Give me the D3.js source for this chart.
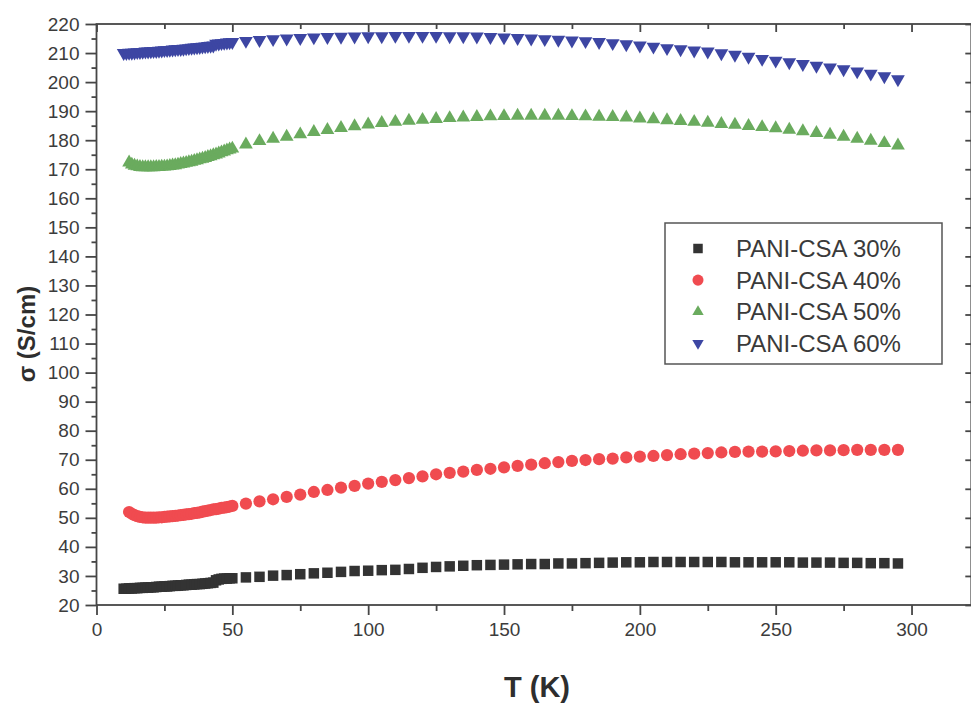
<!DOCTYPE html>
<html><head><meta charset="utf-8">
<script src="https://cdn.jsdelivr.net/npm/d3@7"></script>
<style>
html,body{margin:0;padding:0;background:#fff;}
svg{display:block;}
text{font-family:"Liberation Sans",Arial,Helvetica,sans-serif;}
</style></head>
<body><svg id="chart" width="971" height="703"></svg>
<script>
// ---- data ----
const seriesNames = ["PANI-CSA 30%","PANI-CSA 40%","PANI-CSA 50%","PANI-CSA 60%"];
const tempLow10 = [10,11,12,13,14,15,16,17,18,19,20,21,22,23,24,25,26,27,28,29,30,31,32,33,34,35,36,37,38,39,40,41,42,43,44,45,46,47,48,49];
const tempLow12 = [12,13,14,15,16,17,18,19,20,21,22,23,24,25,26,27,28,29,30,31,32,33,34,35,36,37,38,39,40,41,42,43,44,45,46,47,48,49];
const tempHigh = [50,55,60,65,70,75,80,85,90,95,100,105,110,115,120,125,130,135,140,145,150,155,160,165,170,175,180,185,190,195,200,205,210,215,220,225,230,235,240,245,250,255,260,265,270,275,280,285,290,295];

const sigma30Low = [25.6,25.6,25.7,25.7,25.8,25.8,25.9,25.9,26.0,26.0,26.1,26.1,26.2,26.3,26.3,26.4,26.4,26.5,26.6,26.6,26.7,26.8,26.8,26.9,27.0,27.0,27.1,27.2,27.2,27.3,27.4,27.5,27.6,27.7,28.5,28.8,29.0,29.1,29.1,29.2];
const sigma30High = [29.2,29.5,29.7,30.1,30.3,30.6,30.9,31.1,31.4,31.7,31.8,32.0,32.1,32.4,32.8,33.1,33.3,33.5,33.7,33.8,33.9,34.0,34.1,34.1,34.3,34.3,34.4,34.5,34.6,34.7,34.7,34.8,34.8,34.8,34.8,34.8,34.8,34.7,34.7,34.7,34.7,34.7,34.6,34.6,34.6,34.5,34.5,34.4,34.4,34.3];

const sigma40Low = [52.0,51.4,50.9,50.6,50.3,50.2,50.1,50.1,50.1,50.1,50.1,50.2,50.2,50.3,50.4,50.5,50.6,50.7,50.8,50.9,51.0,51.2,51.3,51.4,51.6,51.7,51.9,52.1,52.3,52.5,52.7,52.9,53.0,53.2,53.4,53.5,53.7,53.9];
const sigma40High = [54.1,54.9,55.7,56.4,57.2,58.0,58.9,59.6,60.4,61.0,61.8,62.4,63.0,63.7,64.3,65.0,65.5,65.9,66.5,66.9,67.4,67.9,68.3,68.8,69.2,69.6,69.9,70.2,70.4,70.8,71.1,71.3,71.6,71.9,72.1,72.3,72.5,72.7,72.8,72.8,72.9,73.0,73.1,73.2,73.2,73.3,73.4,73.4,73.4,73.4];

const sigma50Low = [172.3,171.6,171.2,171.0,170.8,170.7,170.7,170.7,170.7,170.7,170.8,170.8,170.9,170.9,171.0,171.1,171.3,171.4,171.6,171.8,172.0,172.2,172.4,172.6,172.9,173.1,173.4,173.6,173.9,174.2,174.5,174.8,175.1,175.4,175.8,176.1,176.5,176.8];
const sigma50High = [177.1,178.5,179.7,180.5,181.2,182.0,182.8,183.5,184.2,184.8,185.4,185.9,186.3,186.7,187.0,187.3,187.6,187.8,188.0,188.2,188.3,188.4,188.4,188.4,188.4,188.3,188.2,188.1,188.0,187.8,187.5,187.2,186.9,186.6,186.3,186.0,185.6,185.3,184.9,184.5,184.1,183.6,183.1,182.5,181.9,181.2,180.5,179.8,179.0,178.2];

const sigma60Low = [210.0,210.0,210.1,210.1,210.2,210.3,210.3,210.4,210.5,210.5,210.6,210.7,210.7,210.8,210.9,211.0,211.0,211.1,211.2,211.3,211.4,211.4,211.5,211.6,211.7,211.8,211.9,212.0,212.1,212.2,212.3,212.4,212.5,212.6,213.2,213.3,213.4,213.5,213.6,213.7];
const sigma60High = [213.8,214.2,214.5,214.8,215.0,215.2,215.4,215.5,215.6,215.7,215.8,215.8,215.9,215.9,215.9,215.9,215.8,215.8,215.7,215.5,215.4,215.2,215.0,214.8,214.6,214.3,214.1,213.8,213.4,213.0,212.6,212.2,211.7,211.3,210.9,210.5,209.9,209.4,208.7,208.0,207.4,206.8,206.2,205.6,205.0,204.4,203.7,202.9,202.0,201.0];

const xMajorTicks = [0,50,100,150,200,250,300];
const xMinorTicks = [25,75,125,175,225,275];
const yMajorTicks = [20,30,40,50,60,70,80,90,100,110,120,130,140,150,160,170,180,190,200,210,220];
const yMinorTicks = [25,35,45,55,65,75,85,95,105,115,125,135,145,155,165,175,185,195,205,215];

const xTitle = "T (K)";
const yTitle = "\u03c3 (S/cm)";

// ---- build ----
const svg = d3.select("#chart");
const mLeft = 96.5, mRight = 971.3, mTop = 24, mBottom = 605;
const x = d3.scaleLinear().domain([0, 322]).range([mLeft, mRight]);
const y = d3.scaleLinear().domain([20, 220]).range([mBottom, mTop]);

const axisColor = "#464646";
const labelColor = "#3c3c3c";

function styleAxis(g){
  g.select(".domain").remove();
  g.selectAll(".tick line").attr("stroke", axisColor).attr("stroke-width", 1.8);
  g.selectAll(".tick text").attr("fill", labelColor).style("font-size","19px").style("font-family",'"Liberation Sans",Arial,sans-serif');
}

// bottom axis
svg.append("g").attr("transform",`translate(0,${mBottom})`)
  .call(d3.axisBottom(x).tickValues(xMajorTicks).tickSize(10).tickPadding(8).tickFormat(d3.format("d")))
  .call(styleAxis);
svg.append("g").attr("transform",`translate(0,${mBottom})`)
  .call(d3.axisBottom(x).tickValues(xMinorTicks).tickSize(6).tickFormat(""))
  .call(styleAxis);
// top axis (inward)
svg.append("g").attr("transform",`translate(0,${mTop})`)
  .call(d3.axisBottom(x).tickValues(xMajorTicks).tickSize(8).tickFormat(""))
  .call(styleAxis);
svg.append("g").attr("transform",`translate(0,${mTop})`)
  .call(d3.axisBottom(x).tickValues(xMinorTicks).tickSize(5).tickFormat(""))
  .call(styleAxis);
// left axis
svg.append("g").attr("transform",`translate(${mLeft},0)`)
  .call(d3.axisLeft(y).tickValues(yMajorTicks).tickSize(11).tickPadding(6).tickFormat(d3.format("d")))
  .call(styleAxis);
svg.append("g").attr("transform",`translate(${mLeft},0)`)
  .call(d3.axisLeft(y).tickValues(yMinorTicks).tickSize(5).tickFormat(""))
  .call(styleAxis);
// right axis (inward)
svg.append("g").attr("transform",`translate(${mRight},0)`)
  .call(d3.axisLeft(y).tickValues(yMajorTicks).tickSize(6).tickFormat(""))
  .call(styleAxis);

// frame
svg.append("rect").attr("x",mLeft).attr("y",mTop).attr("width",mRight-mLeft).attr("height",mBottom-mTop)
  .attr("fill","none").attr("stroke",axisColor).attr("stroke-width",1.8);

// titles
svg.append("text").attr("x",537).attr("y",697).attr("text-anchor","middle")
  .attr("fill","#2e2e2e").style("font-weight","bold").style("font-size","29px").text(xTitle);
svg.append("text").attr("transform","translate(35,334) rotate(-90)").attr("text-anchor","middle")
  .attr("fill","#2e2e2e").style("font-weight","bold").style("font-size","24px").text(yTitle);

// series
const series = [
  {name:seriesNames[0], t:tempLow10.concat(tempHigh), v:sigma30Low.concat(sigma30High), color:"#333333", sym:d3.symbolSquare, size:110, rot:0, lsize:90},
  {name:seriesNames[1], t:tempLow12.concat(tempHigh), v:sigma40Low.concat(sigma40High), color:"#f04b50", sym:d3.symbolCircle, size:118, rot:0, lsize:96},
  {name:seriesNames[2], t:tempLow12.concat(tempHigh), v:sigma50Low.concat(sigma50High), color:"#6aab5e", sym:d3.symbolTriangle, size:82, rot:0, lsize:56},
  {name:seriesNames[3], t:tempLow10.concat(tempHigh), v:sigma60Low.concat(sigma60High), color:"#3d46a3", sym:d3.symbolTriangle, size:82, rot:180, lsize:56}
];

const plot = svg.append("g");
series.forEach(s => {
  const pts = s.t.map((t,i)=>({t, v:s.v[i]}));
  plot.append("g").selectAll("path").data(pts).join("path")
    .attr("d", d3.symbol().type(s.sym).size(s.size))
    .attr("transform", d => `translate(${x(d.t)},${y(d.v)}) rotate(${s.rot})`)
    .attr("fill", s.color);
});

// legend
const lg = svg.append("g");
lg.append("rect").attr("x",665).attr("y",223).attr("width",277).attr("height",141)
  .attr("fill","#fff").attr("stroke","#555").attr("stroke-width",1.5);
series.forEach((s,i) => {
  const cy = 248.5 + i*31.6;
  lg.append("path").attr("d", d3.symbol().type(s.sym).size(s.lsize))
    .attr("transform",`translate(698,${cy}) rotate(${s.rot})`).attr("fill", s.color);
  lg.append("text").attr("x",736).attr("y",cy).attr("dy","0.36em")
    .attr("fill","#3a3a3a").style("font-size","24px").text(s.name);
});
</script></body></html>
